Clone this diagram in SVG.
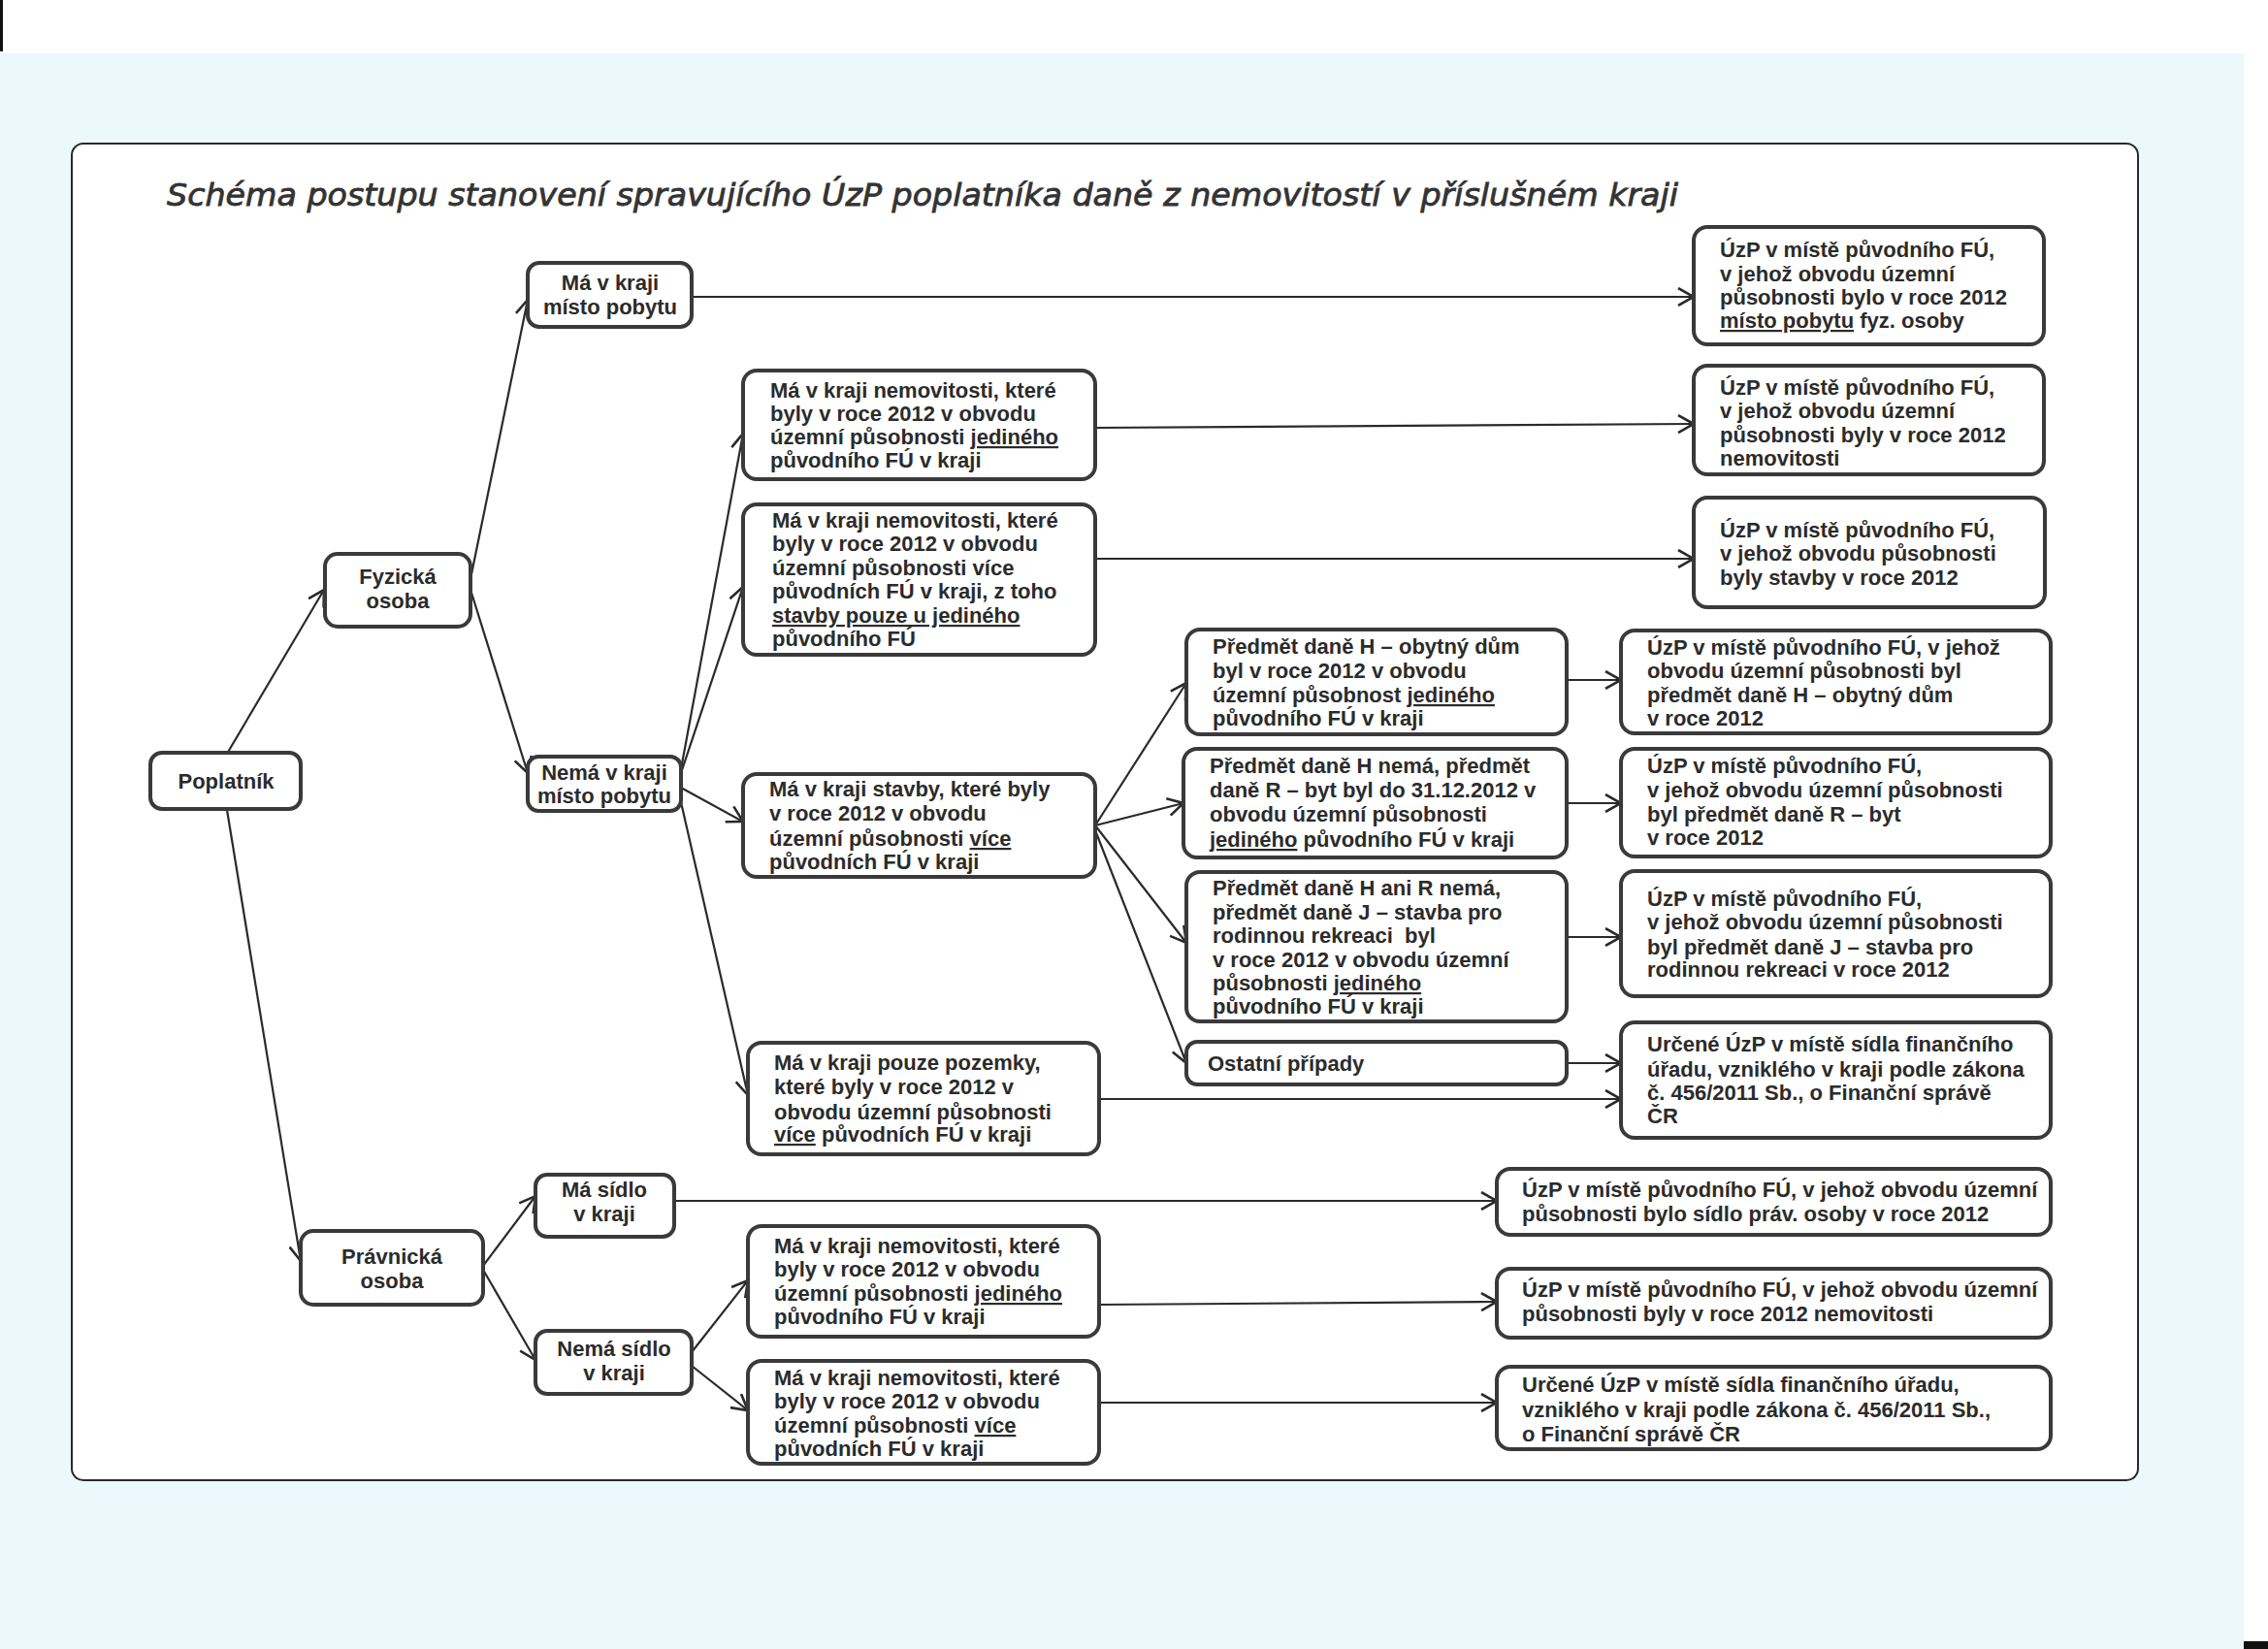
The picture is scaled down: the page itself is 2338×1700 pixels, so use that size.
<svg xmlns="http://www.w3.org/2000/svg" width="2338" height="1700" viewBox="0 0 2338 1700">
<defs>
<marker id="a" viewBox="0 0 20 20" markerWidth="20" markerHeight="20" refX="18" refY="10" orient="auto" markerUnits="userSpaceOnUse">
<path d="M2,1 L18,10 L2,19" fill="none" stroke="#2a2a2a" stroke-width="2.6"/>
</marker>
</defs>
<style>
.n rect{fill:#fff;stroke:#3a3a3a;stroke-width:4}
.t{font-family:"Liberation Sans",Arial,sans-serif;font-size:22px;font-weight:bold;fill:#2b2b2b}
.m{text-anchor:middle}
.u{text-decoration:underline}
#conn line{stroke:#2a2a2a;stroke-width:2.2;fill:none;marker-end:url(#a)}
</style>
<g id="background">
<rect x="0" y="0" width="2338" height="1700" fill="#ebf8fc"/>
<rect x="0" y="0" width="2338" height="55" fill="#ffffff"/>
<rect x="2313" y="0" width="25" height="1700" fill="#ffffff"/>
<rect x="0" y="0" width="3" height="53" fill="#111"/>
<rect x="2313" y="1692" width="25" height="8" fill="#111"/>
<rect x="74" y="148" width="2130" height="1378" rx="12" fill="#fff" stroke="#2a2a2a" stroke-width="2"/>
</g>
<text x="172" y="212" font-family="'DejaVu Sans',Verdana,sans-serif" font-style="italic" font-size="32" fill="#333" stroke="#333" stroke-width="0.8" textLength="1558" lengthAdjust="spacingAndGlyphs">Schéma postupu stanovení spravujícího ÚzP poplatníka daně z nemovitostí v příslušném kraji</text>

<g id="conn">
<line x1="234" y1="777" x2="334" y2="608"/>
<line x1="234" y1="835" x2="310" y2="1300"/>
<line x1="486" y1="592" x2="544" y2="309"/>
<line x1="486" y1="611" x2="544" y2="797"/>
<line x1="713" y1="306" x2="1746" y2="306"/>
<line x1="702" y1="793" x2="766" y2="447"/>
<line x1="702" y1="797" x2="766" y2="605"/>
<line x1="702" y1="812" x2="766" y2="847"/>
<line x1="702" y1="827" x2="771" y2="1129"/>
<line x1="1129" y1="441" x2="1746" y2="437"/>
<line x1="1129" y1="576" x2="1746" y2="576"/>
<line x1="1129" y1="851" x2="1223" y2="704"/>
<line x1="1129" y1="851" x2="1220" y2="828"/>
<line x1="1129" y1="851" x2="1223" y2="972"/>
<line x1="1129" y1="856" x2="1223" y2="1096"/>
<line x1="1615" y1="701" x2="1671" y2="701"/>
<line x1="1615" y1="828" x2="1671" y2="828"/>
<line x1="1615" y1="966" x2="1671" y2="966"/>
<line x1="1615" y1="1096" x2="1671" y2="1096"/>
<line x1="1133" y1="1133" x2="1671" y2="1133"/>
<line x1="498" y1="1305" x2="552" y2="1233"/>
<line x1="498" y1="1309" x2="552" y2="1402"/>
<line x1="695" y1="1238" x2="1543" y2="1238"/>
<line x1="713" y1="1394" x2="771" y2="1320"/>
<line x1="713" y1="1408" x2="771" y2="1454"/>
<line x1="1133" y1="1345" x2="1543" y2="1342"/>
<line x1="1133" y1="1446" x2="1543" y2="1446"/>
</g>

<g id="poplatnik" class="n"><rect x="155" y="776" width="155" height="58" rx="12"/>
<text class="t m" x="233" y="813">Poplatník</text></g>

<g id="fyzicka" class="n"><rect x="335" y="571" width="150" height="75" rx="13"/>
<text class="t m" x="410" y="602">Fyzická</text><text class="t m" x="410" y="627">osoba</text></g>

<g id="pravnicka" class="n"><rect x="310" y="1269" width="188" height="76" rx="13"/>
<text class="t m" x="404" y="1303">Právnická</text><text class="t m" x="404" y="1328">osoba</text></g>

<g id="ma-pobyt" class="n"><rect x="544" y="271" width="169" height="66" rx="12"/>
<text class="t m" x="629" y="299">Má v kraji</text><text class="t m" x="629" y="324">místo pobytu</text></g>

<g id="nema-pobyt" class="n"><rect x="544" y="780" width="158" height="56" rx="11"/>
<text class="t m" x="623" y="804">Nemá v kraji</text><text class="t m" x="623" y="828">místo pobytu</text></g>

<g id="ma-sidlo" class="n"><rect x="552" y="1211" width="143" height="64" rx="12"/>
<text class="t m" x="623" y="1234">Má sídlo</text><text class="t m" x="623" y="1259">v kraji</text></g>

<g id="nema-sidlo" class="n"><rect x="552" y="1372" width="161" height="65" rx="12"/>
<text class="t m" x="633" y="1398">Nemá sídlo</text><text class="t m" x="633" y="1423">v kraji</text></g>

<g id="fo-nemovitosti-jediny" class="n"><rect x="766" y="382" width="363" height="112" rx="14"/>
<text class="t" x="794" y="410">Má v kraji nemovitosti, které</text>
<text class="t" x="794" y="434">byly v roce 2012 v obvodu</text>
<text class="t" x="794" y="458">územní působnosti <tspan class="u">jediného</tspan></text>
<text class="t" x="794" y="482">původního FÚ v kraji</text></g>

<g id="fo-nemovitosti-vice-stavby-jediny" class="n"><rect x="766" y="520" width="363" height="155" rx="14"/>
<text class="t" x="796" y="544">Má v kraji nemovitosti, které</text>
<text class="t" x="796" y="568">byly v roce 2012 v obvodu</text>
<text class="t" x="796" y="593">územní působnosti více</text>
<text class="t" x="796" y="617">původních FÚ v kraji, z toho</text>
<text class="t" x="796" y="642"><tspan class="u">stavby pouze u jediného</tspan></text>
<text class="t" x="796" y="666">původního FÚ</text></g>

<g id="fo-stavby-vice" class="n"><rect x="766" y="798" width="363" height="106" rx="14"/>
<text class="t" x="793" y="821">Má v kraji stavby, které byly</text>
<text class="t" x="793" y="846">v roce 2012 v obvodu</text>
<text class="t" x="793" y="872">územní působnosti <tspan class="u">více</tspan></text>
<text class="t" x="793" y="896">původních FÚ v kraji</text></g>

<g id="fo-pozemky" class="n"><rect x="771" y="1075" width="362" height="115" rx="14"/>
<text class="t" x="798" y="1103">Má v kraji pouze pozemky,</text>
<text class="t" x="798" y="1128">které byly v roce 2012 v</text>
<text class="t" x="798" y="1154">obvodu územní působnosti</text>
<text class="t" x="798" y="1177"><tspan class="u">více</tspan> původních FÚ v kraji</text></g>

<g id="po-nemovitosti-jediny" class="n"><rect x="771" y="1264" width="362" height="114" rx="14"/>
<text class="t" x="798" y="1292">Má v kraji nemovitosti, které</text>
<text class="t" x="798" y="1316">byly v roce 2012 v obvodu</text>
<text class="t" x="798" y="1341">územní působnosti <tspan class="u">jediného</tspan></text>
<text class="t" x="798" y="1365">původního FÚ v kraji</text></g>

<g id="po-nemovitosti-vice" class="n"><rect x="771" y="1403" width="362" height="106" rx="14"/>
<text class="t" x="798" y="1428">Má v kraji nemovitosti, které</text>
<text class="t" x="798" y="1452">byly v roce 2012 v obvodu</text>
<text class="t" x="798" y="1477">územní působnosti <tspan class="u">více</tspan></text>
<text class="t" x="798" y="1501">původních FÚ v kraji</text></g>

<g id="predmet-h" class="n"><rect x="1223" y="649" width="392" height="108" rx="14"/>
<text class="t" x="1250" y="674">Předmět daně H – obytný dům</text>
<text class="t" x="1250" y="699">byl v roce 2012 v obvodu</text>
<text class="t" x="1250" y="724">územní působnost <tspan class="u">jediného</tspan></text>
<text class="t" x="1250" y="748">původního FÚ v kraji</text></g>

<g id="predmet-r" class="n"><rect x="1220" y="772" width="395" height="112" rx="14"/>
<text class="t" x="1247" y="797">Předmět daně H nemá, předmět</text>
<text class="t" x="1247" y="822">daně R – byt byl do 31.12.2012 v</text>
<text class="t" x="1247" y="847">obvodu územní působnosti</text>
<text class="t" x="1247" y="873"><tspan class="u">jediného</tspan> původního FÚ v kraji</text></g>

<g id="predmet-j" class="n"><rect x="1223" y="899" width="392" height="154" rx="14"/>
<text class="t" x="1250" y="923">Předmět daně H ani R nemá,</text>
<text class="t" x="1250" y="948">předmět daně J – stavba pro</text>
<text class="t" x="1250" y="972" xml:space="preserve">rodinnou rekreaci  byl</text>
<text class="t" x="1250" y="997">v roce 2012 v obvodu územní</text>
<text class="t" x="1250" y="1021">působnosti <tspan class="u">jediného</tspan></text>
<text class="t" x="1250" y="1045">původního FÚ v kraji</text></g>

<g id="ostatni" class="n"><rect x="1223" y="1074" width="392" height="44" rx="11"/>
<text class="t" x="1245" y="1104">Ostatní případy</text></g>

<g id="uzp-pobyt" class="n"><rect x="1746" y="234" width="361" height="121" rx="14"/>
<text class="t" x="1773" y="265">ÚzP v místě původního FÚ,</text>
<text class="t" x="1773" y="290">v jehož obvodu územní</text>
<text class="t" x="1773" y="314">působnosti bylo v roce 2012</text>
<text class="t" x="1773" y="338"><tspan class="u">místo pobytu</tspan> fyz. osoby</text></g>

<g id="uzp-nemovitosti" class="n"><rect x="1746" y="377" width="361" height="112" rx="14"/>
<text class="t" x="1773" y="407">ÚzP v místě původního FÚ,</text>
<text class="t" x="1773" y="431">v jehož obvodu územní</text>
<text class="t" x="1773" y="456">působnosti byly v roce 2012</text>
<text class="t" x="1773" y="480">nemovitosti</text></g>

<g id="uzp-stavby" class="n"><rect x="1746" y="513" width="362" height="113" rx="14"/>
<text class="t" x="1773" y="554">ÚzP v místě původního FÚ,</text>
<text class="t" x="1773" y="578">v jehož obvodu působnosti</text>
<text class="t" x="1773" y="603">byly stavby v roce 2012</text></g>

<g id="uzp-h" class="n"><rect x="1671" y="650" width="443" height="106" rx="14"/>
<text class="t" x="1698" y="675">ÚzP v místě původního FÚ, v jehož</text>
<text class="t" x="1698" y="699">obvodu územní působnosti byl</text>
<text class="t" x="1698" y="724">předmět daně H – obytný dům</text>
<text class="t" x="1698" y="748">v roce 2012</text></g>

<g id="uzp-r" class="n"><rect x="1671" y="772" width="443" height="111" rx="14"/>
<text class="t" x="1698" y="797">ÚzP v místě původního FÚ,</text>
<text class="t" x="1698" y="822">v jehož obvodu územní působnosti</text>
<text class="t" x="1698" y="847">byl předmět daně R – byt</text>
<text class="t" x="1698" y="871">v roce 2012</text></g>

<g id="uzp-j" class="n"><rect x="1671" y="898" width="443" height="129" rx="14"/>
<text class="t" x="1698" y="934">ÚzP v místě původního FÚ,</text>
<text class="t" x="1698" y="958">v jehož obvodu územní působnosti</text>
<text class="t" x="1698" y="984">byl předmět daně J – stavba pro</text>
<text class="t" x="1698" y="1007">rodinnou rekreaci v roce 2012</text></g>

<g id="urcene-fo" class="n"><rect x="1671" y="1054" width="443" height="119" rx="14"/>
<text class="t" x="1698" y="1084">Určené ÚzP v místě sídla finančního</text>
<text class="t" x="1698" y="1110">úřadu, vzniklého v kraji podle zákona</text>
<text class="t" x="1698" y="1134">č. 456/2011 Sb., o Finanční správě</text>
<text class="t" x="1698" y="1158">ČR</text></g>

<g id="uzp-sidlo" class="n"><rect x="1543" y="1205" width="571" height="68" rx="14"/>
<text class="t" x="1569" y="1234">ÚzP v místě původního FÚ, v jehož obvodu územní</text>
<text class="t" x="1569" y="1259">působnosti bylo sídlo práv. osoby v roce 2012</text></g>

<g id="uzp-po-nemovitosti" class="n"><rect x="1543" y="1308" width="571" height="71" rx="14"/>
<text class="t" x="1569" y="1337">ÚzP v místě původního FÚ, v jehož obvodu územní</text>
<text class="t" x="1569" y="1362">působnosti byly v roce 2012 nemovitosti</text></g>

<g id="urcene-po" class="n"><rect x="1543" y="1409" width="571" height="85" rx="14"/>
<text class="t" x="1569" y="1435">Určené ÚzP v místě sídla finančního úřadu,</text>
<text class="t" x="1569" y="1461">vzniklého v kraji podle zákona č. 456/2011 Sb.,</text>
<text class="t" x="1569" y="1486">o Finanční správě ČR</text></g>
</svg>
